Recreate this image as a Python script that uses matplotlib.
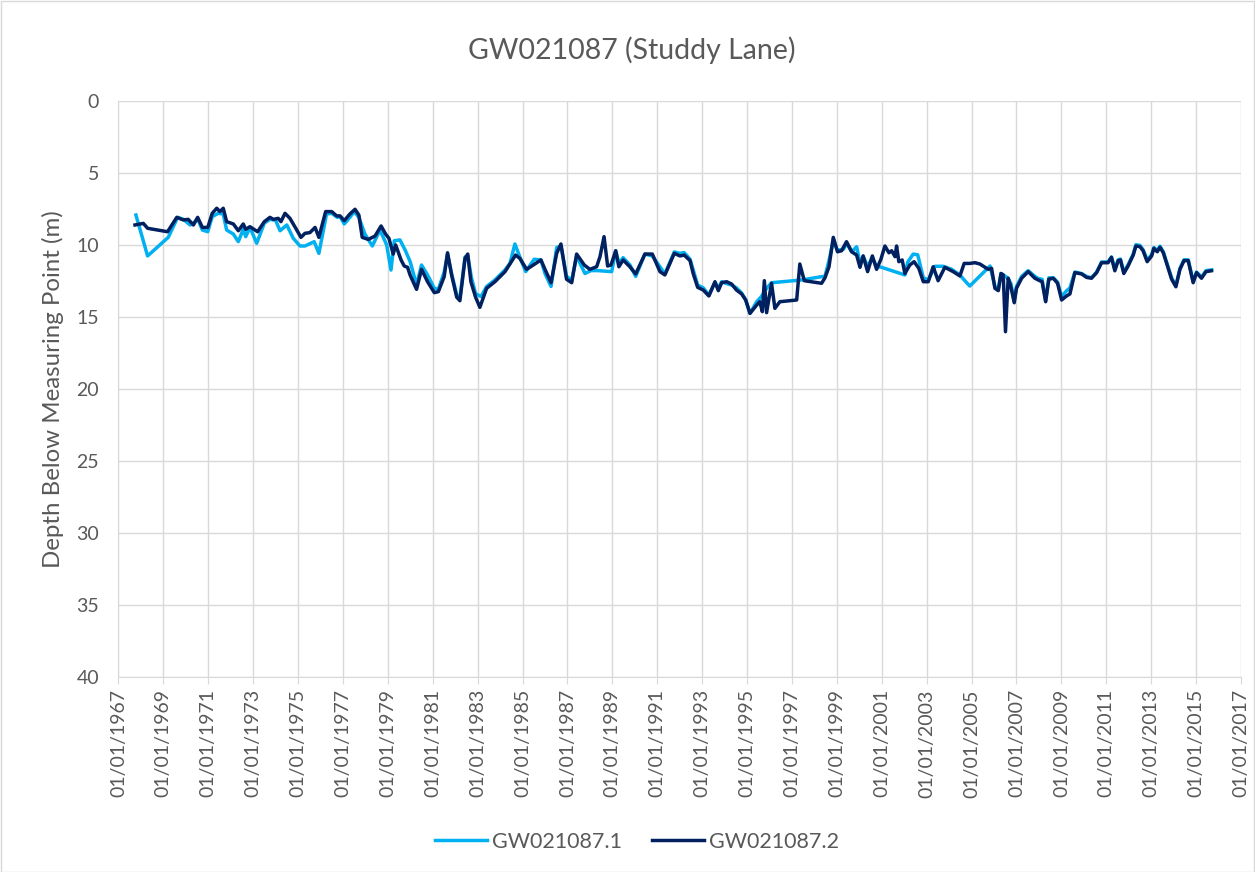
import matplotlib
matplotlib.use("Agg")
import matplotlib.pyplot as plt
from matplotlib.lines import Line2D

plt.rcParams['font.family'] = ['Lato', 'DejaVu Sans']

title = "GW021087 (Studdy Lane)"
ylabel = "Depth Below Measuring Point (m)"
series_names = ["GW021087.1", "GW021087.2"]

# decimal year, depth (m) for GW021087.1
s1_year = [1967.78, 1968.30, 1969.22, 1969.64, 1969.90, 1970.19, 1970.34, 1970.53, 1970.74, 1970.98,
           1971.18, 1971.45, 1971.67, 1971.82, 1972.12, 1972.34, 1972.56, 1972.67, 1972.86, 1973.16,
           1973.50, 1973.75, 1974.00, 1974.20, 1974.50, 1974.79, 1975.09, 1975.31, 1975.72, 1975.93,
           1976.27, 1976.50, 1976.75, 1976.87, 1977.06, 1977.31, 1977.50, 1977.71, 1977.98, 1978.31,
           1978.65, 1978.95, 1979.14, 1979.29, 1979.54, 1979.78, 1980.00, 1980.28, 1980.50, 1980.77,
           1981.07, 1981.25, 1981.51, 1981.66, 1981.84, 1982.07, 1982.21, 1982.44, 1982.56, 1982.73,
           1982.91, 1983.15, 1983.40, 1983.77, 1984.22, 1984.44, 1984.66, 1984.88, 1985.14, 1985.52,
           1985.82, 1986.00, 1986.27, 1986.52, 1986.71, 1986.96, 1987.19, 1987.41, 1987.78, 1988.05,
           1988.35, 1988.97, 1989.15, 1989.29, 1989.48, 1989.78, 1990.04, 1990.45, 1990.78, 1991.12,
           1991.34, 1991.76, 1992.01, 1992.20, 1992.46, 1992.80, 1993.05, 1993.30, 1993.57, 1993.72,
           1993.87, 1994.09, 1994.31, 1994.53, 1994.76, 1994.94, 1995.13, 1995.43, 1995.64, 1995.87,
           1996.09, 1997.43, 1998.32, 1998.47, 1998.65, 1998.84, 1999.03, 1999.30, 1999.43, 1999.66,
           1999.88, 2000.03, 2000.17, 2000.37, 2000.58, 2000.77, 2000.99, 2002.03, 2002.16, 2002.40,
           2002.60, 2002.85, 2003.07, 2003.37, 2003.74, 2004.10, 2004.48, 2004.70, 2004.92, 2005.82,
           2006.04, 2006.19, 2006.31, 2006.41, 2006.63, 2006.75, 2006.90, 2007.00, 2007.23, 2007.52,
           2007.82, 2007.97, 2008.14, 2008.30, 2008.44, 2008.64, 2008.83, 2009.01, 2009.23, 2009.38,
           2009.60, 2009.90, 2010.12, 2010.34, 2010.57, 2010.79, 2010.94, 2011.08, 2011.23, 2011.38,
           2011.53, 2011.63, 2011.78, 2011.97, 2012.20, 2012.32, 2012.50, 2012.64, 2012.82, 2013.02,
           2013.12, 2013.27, 2013.39, 2013.54, 2013.91, 2014.10, 2014.28, 2014.46, 2014.65, 2014.87,
           2015.02, 2015.24, 2015.44, 2015.70]
s1_depth = [7.94, 10.78, 9.49, 8.10, 8.24, 8.63, 8.52, 8.20, 8.98, 9.10,
            8.05, 7.82, 7.87, 8.98, 9.26, 9.79, 8.93, 9.44, 8.80, 9.90,
            8.50, 8.24, 8.30, 9.03, 8.63, 9.56, 10.09, 10.09, 9.79, 10.60,
            7.87, 7.82, 8.10, 8.05, 8.56, 8.10, 7.70, 8.10, 9.26, 10.09,
            8.98, 10.02, 11.76, 9.72, 9.67, 10.40, 11.20, 12.80, 11.41, 12.10,
            13.03, 13.10, 11.90, 10.65, 12.00, 13.50, 13.70, 10.85, 10.80, 12.33,
            13.40, 13.60, 12.90, 12.45, 11.75, 11.30, 9.95, 10.85, 11.87, 11.01,
            11.06, 12.00, 12.90, 10.20, 10.10, 12.20, 12.45, 10.80, 12.00, 11.80,
            11.80, 11.87, 10.42, 11.30, 10.90, 11.40, 12.20, 10.65, 10.78, 11.53,
            12.03, 10.50, 10.60, 10.55, 11.00, 12.80, 13.00, 13.50, 12.64, 13.00,
            12.57, 12.70, 12.80, 13.00, 13.36, 13.84, 14.77, 13.96, 13.60, 13.03,
            12.64, 12.45, 12.22, 12.20, 11.10, 9.70, 10.40, 10.30, 9.90, 10.50,
            10.14, 11.30, 10.80, 11.50, 10.90, 11.50, 11.57, 12.10, 11.20, 10.65,
            10.70, 12.30, 12.45, 11.50, 11.50, 11.70, 12.10, 12.50, 12.87, 11.48,
            12.90, 13.10, 12.00, 12.10, 12.33, 12.70, 13.90, 12.90, 12.20, 11.80,
            12.20, 12.35, 12.40, 13.90, 12.30, 12.30, 12.60, 13.60, 13.20, 13.00,
            11.90, 12.00, 12.20, 12.30, 11.90, 11.20, 11.20, 11.20, 10.85, 11.70,
            11.05, 11.00, 11.90, 11.40, 10.65, 10.00, 10.05, 10.35, 11.05, 10.70,
            10.20, 10.40, 10.10, 10.50, 12.30, 12.85, 11.65, 11.05, 11.05, 12.55,
            11.90, 12.25, 11.80, 11.75]

# decimal year, depth (m) for GW021087.2
s2_year = [1967.74, 1968.11, 1968.30, 1969.19, 1969.60, 1969.89, 1970.11, 1970.34, 1970.53, 1970.74,
           1970.98, 1971.18, 1971.38, 1971.52, 1971.67, 1971.82, 1972.12, 1972.34, 1972.56, 1972.67,
           1972.86, 1973.20, 1973.50, 1973.75, 1973.90, 1974.12, 1974.24, 1974.42, 1974.64, 1974.90,
           1975.13, 1975.31, 1975.53, 1975.76, 1975.93, 1976.23, 1976.50, 1976.72, 1976.87, 1977.06,
           1977.31, 1977.54, 1977.71, 1977.86, 1978.13, 1978.43, 1978.70, 1978.90, 1979.05, 1979.24,
           1979.35, 1979.59, 1979.73, 1979.88, 1979.99, 1980.28, 1980.50, 1980.77, 1981.07, 1981.25,
           1981.51, 1981.66, 1981.84, 1982.07, 1982.21, 1982.44, 1982.56, 1982.70, 1982.91, 1983.10,
           1983.40, 1983.77, 1984.22, 1984.69, 1984.88, 1985.18, 1985.48, 1985.82, 1986.00, 1986.27,
           1986.52, 1986.71, 1986.96, 1987.19, 1987.41, 1987.75, 1988.00, 1988.30, 1988.45, 1988.63,
           1988.79, 1988.94, 1989.15, 1989.29, 1989.48, 1989.78, 1990.04, 1990.45, 1990.78, 1991.12,
           1991.34, 1991.76, 1992.01, 1992.20, 1992.46, 1992.60, 1992.80, 1993.05, 1993.30, 1993.57,
           1993.72, 1993.87, 1994.09, 1994.31, 1994.53, 1994.76, 1994.94, 1995.13, 1995.43, 1995.57,
           1995.68, 1995.77, 1995.87, 1996.09, 1996.24, 1996.46, 1997.21, 1997.35, 1997.55, 1998.32,
           1998.47, 1998.65, 1998.84, 1999.03, 1999.21, 1999.43, 1999.66, 1999.88, 2000.03, 2000.17,
           2000.37, 2000.58, 2000.77, 2000.96, 2001.14, 2001.32, 2001.44, 2001.59, 2001.66, 2001.76,
           2001.91, 2002.03, 2002.25, 2002.44, 2002.65, 2002.85, 2003.07, 2003.29, 2003.51, 2003.81,
           2004.18, 2004.48, 2004.67, 2004.92, 2005.15, 2005.37, 2005.74, 2005.89, 2006.04, 2006.19,
           2006.31, 2006.41, 2006.51, 2006.63, 2006.75, 2006.90, 2007.00, 2007.23, 2007.52, 2007.82,
           2007.97, 2008.14, 2008.30, 2008.44, 2008.64, 2008.83, 2009.01, 2009.23, 2009.38, 2009.60,
           2009.90, 2010.12, 2010.34, 2010.57, 2010.79, 2010.94, 2011.08, 2011.23, 2011.38, 2011.53,
           2011.63, 2011.78, 2011.97, 2012.20, 2012.32, 2012.50, 2012.64, 2012.82, 2013.02, 2013.12,
           2013.27, 2013.39, 2013.54, 2013.91, 2014.10, 2014.28, 2014.46, 2014.65, 2014.87, 2015.02,
           2015.24, 2015.44, 2015.68]
s2_depth = [8.63, 8.52, 8.86, 9.10, 8.10, 8.28, 8.24, 8.63, 8.10, 8.80,
            8.80, 7.82, 7.47, 7.70, 7.47, 8.40, 8.56, 9.03, 8.56, 8.93,
            8.75, 9.10, 8.40, 8.10, 8.24, 8.17, 8.40, 7.82, 8.17, 8.86,
            9.49, 9.21, 9.16, 8.80, 9.49, 7.70, 7.70, 8.00, 8.00, 8.33,
            7.87, 7.54, 7.94, 9.49, 9.63, 9.40, 8.70, 9.26, 9.56, 10.65,
            10.02, 11.06, 11.48, 11.57, 12.10, 13.10, 11.71, 12.57, 13.33, 13.26,
            12.22, 10.56, 12.10, 13.65, 13.89, 10.95, 10.65, 12.57, 13.65, 14.35,
            13.03, 12.57, 11.87, 10.72, 10.95, 11.71, 11.41, 11.06, 11.71, 12.64,
            10.60, 9.95, 12.40, 12.64, 10.65, 11.41, 11.71, 11.53, 10.83, 9.44,
            11.48, 11.41, 10.42, 11.53, 11.06, 11.53, 12.03, 10.65, 10.65, 11.87,
            12.10, 10.60, 10.78, 10.72, 11.10, 12.00, 12.96, 13.15, 13.56, 12.57,
            13.19, 12.64, 12.57, 12.73, 13.15, 13.42, 13.84, 14.77, 14.19, 13.96,
            14.65, 12.50, 14.72, 12.68, 14.42, 13.96, 13.84, 11.34, 12.50, 12.68,
            12.30, 11.53, 9.49, 10.49, 10.42, 9.79, 10.49, 10.72, 11.57, 10.78,
            11.87, 10.78, 11.71, 11.02, 10.09, 10.56, 10.42, 10.83, 10.09, 11.18,
            11.06, 12.00, 11.41, 11.18, 11.64, 12.57, 12.57, 11.53, 12.50, 11.57,
            11.87, 12.17, 11.30, 11.30, 11.25, 11.34, 11.71, 11.64, 13.03, 13.19,
            12.00, 12.10, 16.04, 12.33, 12.92, 14.03, 13.03, 12.33, 11.87, 12.33,
            12.45, 12.57, 13.96, 12.40, 12.33, 12.68, 13.84, 13.56, 13.42, 11.94,
            12.03, 12.27, 12.33, 11.94, 11.25, 11.25, 11.25, 10.88, 11.81, 11.11,
            11.06, 12.00, 11.48, 10.72, 10.09, 10.14, 10.42, 11.18, 10.78, 10.25,
            10.49, 10.18, 10.56, 12.40, 12.92, 11.71, 11.11, 11.11, 12.64, 11.94,
            12.33, 11.87, 11.81]

x_tick_years = list(range(1967, 2018, 2))
x_tick_labels = ["01/01/%d" % y for y in x_tick_years]
y_ticks = [0, 5, 10, 15, 20, 25, 30, 35, 40]

c_light = "#00B0F0"
c_dark = "#002060"
grid_c = "#D9D9D9"
text_c = "#595959"

W, H = 1255, 872
fig = plt.figure(figsize=(W / 100, H / 100), dpi=100)
fig.patch.set_facecolor("white")
fig.patches.append(plt.Rectangle((0.5 / W, 0.5 / H), 1 - 1.5 / W, 1 - 1.5 / H,
                                 transform=fig.transFigure, fill=False,
                                 edgecolor="#D9D9D9", linewidth=1))

left, right, top, bottom = 118.4, 1241.0, 100.7, 676.7
ax = fig.add_axes([left / W, 1 - bottom / H, (right - left) / W, (bottom - top) / H])

ax.plot(s1_year, s1_depth, color=c_light, linewidth=2.5, solid_joinstyle="round", zorder=3)
ax.plot(s2_year, s2_depth, color=c_dark, linewidth=2.5, solid_joinstyle="round", zorder=4)

ax.set_xlim(1967, 2017)
ax.set_ylim(40, 0)
ax.set_xticks(x_tick_years)
ax.set_xticklabels(x_tick_labels, rotation=90, fontsize=14, color=text_c)
ax.set_yticks(y_ticks)
ax.set_yticklabels([str(v) for v in y_ticks], fontsize=14, color=text_c)
ax.tick_params(axis="x", length=5, color=grid_c, pad=4)
ax.tick_params(axis="y", length=0, pad=14)
ax.grid(True, color=grid_c, linewidth=1)
ax.set_axisbelow(True)
for s in ["top", "right"]:
    ax.spines[s].set_visible(False)
ax.spines["left"].set_color(grid_c)
ax.spines["bottom"].set_color(grid_c)

ax.set_ylabel(ylabel, fontsize=17.3, color=text_c, labelpad=9)
fig.text(632 / W, 1 - 50 / H, title, ha="center", va="center", fontsize=20.5, color=text_c)

handles = [Line2D([0], [0], color=c_light, linewidth=2.5),
           Line2D([0], [0], color=c_dark, linewidth=2.5)]
fig.legend(handles, series_names, loc="center", bbox_to_anchor=(637 / W, 1 - 842 / H),
           ncol=2, frameon=False, fontsize=15.5, labelcolor=text_c,
           handlelength=2.4, columnspacing=1.4, handletextpad=0.25)

fig.savefig("out.png", dpi=100)
